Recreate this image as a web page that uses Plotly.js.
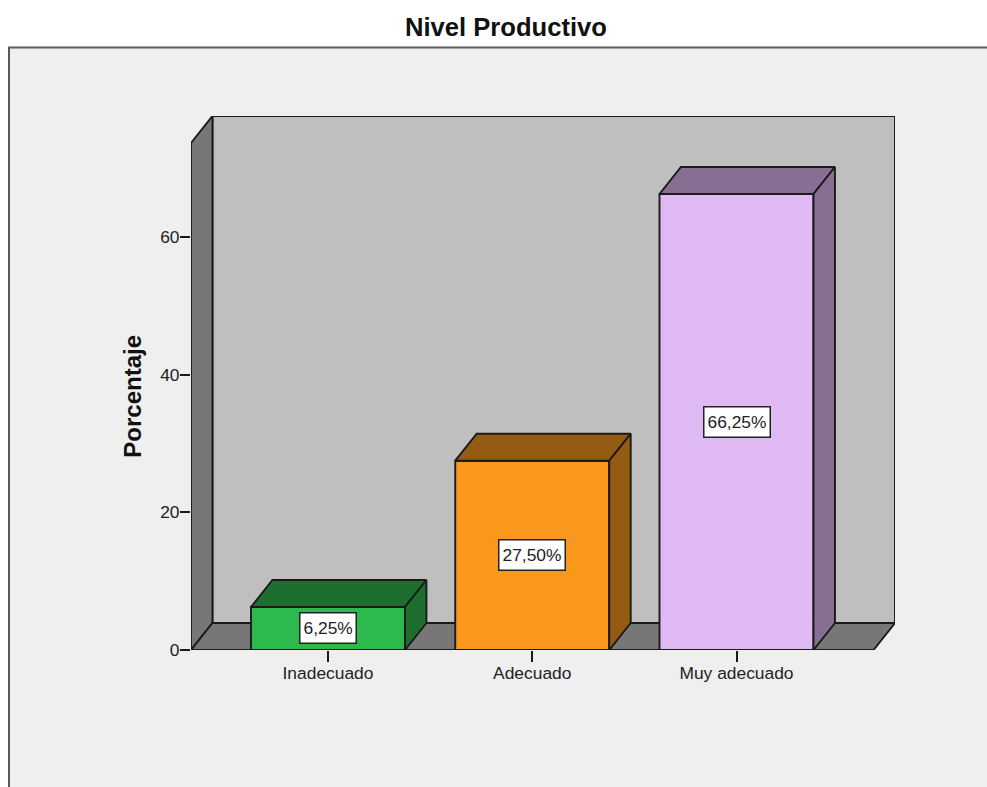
<!DOCTYPE html>
<html>
<head>
<meta charset="utf-8">
<script src="https://cdn.plot.ly/plotly-3.0.1.min.js"></script>
<style>html,body{margin:0;padding:0;background:#fff;overflow:hidden}</style>
</head>
<body>
<div id="chart" style="width:987px;height:787px"></div>
<script>
// Survey result: share of respondents per productive level
const categories = ['Inadecuado', 'Adecuado', 'Muy adecuado'];
const percentages = [6.25, 27.5, 66.25];
const frontColors = ['#2db94d', '#fa981d', '#dfb9f3'];
const shadeColors = ['#1e6e2f', '#965b12', '#866f92'];
const yTicks = [0, 20, 40, 60];

// Extent of the axes and the oblique offset used for the pseudo-3D look
const xRange = [-0.6707, 2.776];
const yRange = [0, 77.58];
const depthX = 0.105;
const depthY = 3.92;
const barWidth = 0.754;
const edge = '#1a1a1a';
const edgeWidth = 1.9;

const positions = categories.map((_, i) => i);
const fmt = v => v.toFixed(2).replace('.', ',') + '%';

// Closed polygon path in data coordinates
const poly = pts => 'M' + pts.map(p => p.join(',')).join('L') + 'Z';

const xFrontL = xRange[0];
const xBackR = xRange[1];
const xBackL = xFrontL + depthX;
const xFrontR = xBackR - depthX;
const yBackT = yRange[1];
const yFrontT = yBackT - depthY;

const wallLine = {color: edge, width: edgeWidth};
const walls = [
  {pts: [[xBackL, depthY], [xBackR, depthY], [xBackR, yBackT], [xBackL, yBackT]], fill: '#bfbfbf'},
  {pts: [[xFrontL, 0], [xBackL, depthY], [xBackL, yBackT], [xFrontL, yFrontT]], fill: '#777777'},
  {pts: [[xFrontL, 0], [xFrontR, 0], [xBackR, depthY], [xBackL, depthY]], fill: '#777777'}
].map(w => ({
  type: 'path', xref: 'x', yref: 'y', layer: 'below',
  path: poly(w.pts), fillcolor: w.fill, line: wallLine
}));

// Light panel behind the whole chart, running off the right and bottom edges
const panel = {
  type: 'rect', xref: 'paper', yref: 'paper', layer: 'below',
  x0: (9 - 191) / 704, x1: 1.2, y0: -0.4, y1: (650 - 47.5) / 534,
  fillcolor: '#efefef', line: {color: '#5a5a5a', width: 2}
};

// Front faces
const bars = {
  type: 'bar', x: positions, y: percentages, width: barWidth,
  marker: {color: frontColors, line: {color: edge, width: edgeWidth}},
  hoverinfo: 'x+y', showlegend: false
};

// Top and side faces derived from each bar's value
const faces = [];
percentages.forEach((v, i) => {
  const l = i - barWidth / 2, r = i + barWidth / 2;
  const top = [[l, v], [r, v], [r + depthX, v + depthY], [l + depthX, v + depthY], [l, v]];
  const side = [[r, 0], [r + depthX, depthY], [r + depthX, v + depthY], [r, v], [r, 0]];
  [top, side].forEach(f => faces.push({
    type: 'scatter', mode: 'lines', fill: 'toself',
    x: f.map(p => p[0]), y: f.map(p => p[1]),
    fillcolor: shadeColors[i], line: {color: edge, width: edgeWidth},
    hoverinfo: 'skip', showlegend: false
  }));
});

// Boxed value labels at mid-height of each bar
const valueLabels = percentages.map((v, i) => ({
  x: i, y: v / 2, xref: 'x', yref: 'y', text: fmt(v), showarrow: false,
  font: {family: 'Liberation Sans', size: 17.4, color: '#222'},
  bgcolor: '#ffffff', bordercolor: '#222', borderwidth: 1.5, borderpad: 3, height: 23
}));

const yTitle = {
  x: (133 - 191) / 704, y: 36.8, xref: 'paper', yref: 'y', xanchor: 'center', yanchor: 'middle',
  text: '<b>Porcentaje</b>', showarrow: false,
  textangle: -90, font: {family: 'Liberation Sans', size: 24, color: '#111'}
};

const layout = {
  width: 987, height: 787,
  margin: {l: 191, r: 92, t: 116, b: 137, pad: 0},
  paper_bgcolor: '#ffffff', plot_bgcolor: 'rgba(0,0,0,0)',
  title: {
    text: '<b>Nivel Productivo</b>',
    font: {family: 'Liberation Sans', size: 25.6, color: '#111'},
    x: 506 / 987, xanchor: 'center', y: 1 - 27 / 787, yanchor: 'middle'
  },
  xaxis: {
    range: xRange, tickmode: 'array', tickvals: positions, ticktext: categories,
    ticks: 'outside', ticklen: 11, tickwidth: 1.8, tickcolor: edge, ticklabelstandoff: -4,
    showgrid: false, zeroline: false, showline: false,
    tickfont: {family: 'Liberation Sans', size: 17.4, color: '#222'}
  },
  yaxis: {
    range: yRange, tickmode: 'array', tickvals: yTicks,
    ticks: 'outside', ticklen: 10, tickwidth: 1.8, tickcolor: edge, ticklabelstandoff: -3,
    showgrid: false, zeroline: false, showline: false,
    tickfont: {family: 'Liberation Sans', size: 17.4, color: '#222'}
  },
  shapes: [panel].concat(walls),
  annotations: valueLabels.concat([yTitle]),
  showlegend: false
};

Plotly.newPlot('chart', [bars].concat(faces), layout, {displayModeBar: false, responsive: false});
</script>
</body>
</html>
